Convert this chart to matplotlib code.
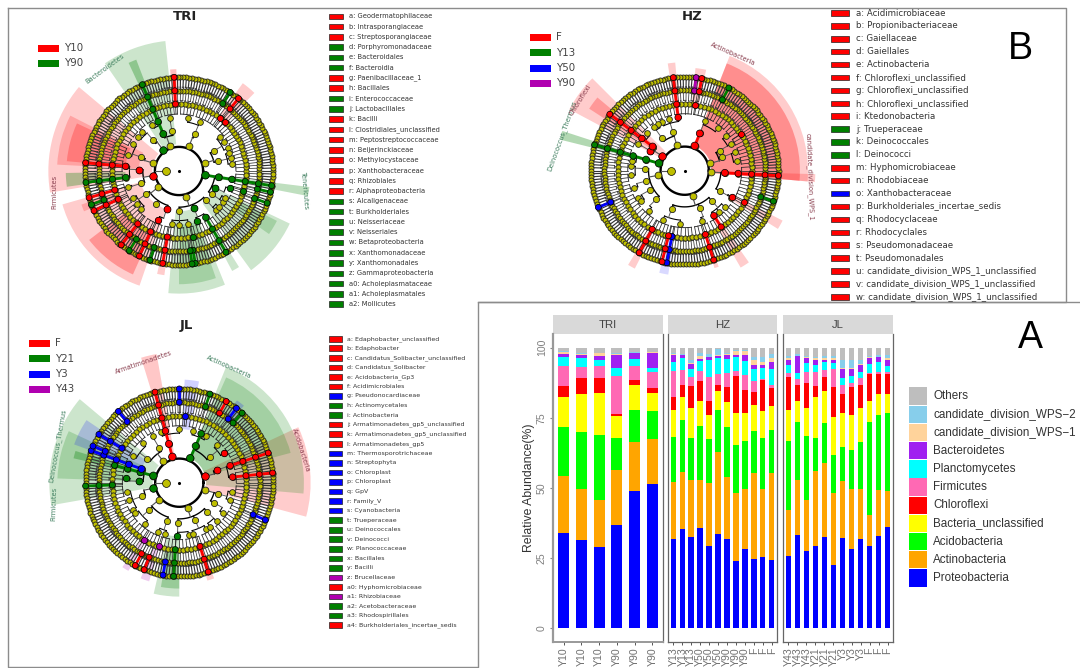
import numpy as np
import matplotlib
matplotlib.use("Agg")
import matplotlib.pyplot as plt
from matplotlib.patches import Rectangle

W, H = 1080, 668
RED, GREEN, BLUE, PURPLE = "#ff0000", "#008000", "#0000ff", "#b000b0"
OLIVE = "#bfbf00"
COL = {"r": RED, "g": GREEN, "b": BLUE, "m": PURPLE}

# ---- stacked bars: cumulative tops, one list per phylum
phyla = ["Proteobacteria", "Actinobacteria", "Acidobacteria", "Bacteria_unclassified",
         "Chloroflexi", "Firmicutes", "Planctomycetes", "Bacteroidetes",
         "candidate_division_WPS\u22121", "candidate_division_WPS\u22122", "Others"]
phyla_colors = ["#0000ff", "#ffa500", "#00ff00", "#ffff00", "#ff0000", "#ff69b4",
                "#00ffff", "#a020f0", "#ffd39b", "#87ceeb", "#bebebe"]

tri_samples = ["Y10", "Y10", "Y10", "Y90", "Y90", "Y90"]
tri_tops = [
    [34.1, 31.5, 29.0, 36.7, 48.9, 51.4],
    [54.2, 49.5, 45.8, 56.6, 66.3, 67.5],
    [71.8, 70.0, 69.0, 68.0, 78.0, 77.5],
    [82.5, 83.6, 84.0, 75.7, 86.7, 83.8],
    [86.3, 89.4, 89.3, 76.5, 88.6, 85.6],
    [93.5, 93.1, 93.5, 90.0, 93.5, 91.2],
    [96.8, 96.3, 95.8, 92.8, 96.1, 92.9],
    [97.9, 97.6, 96.9, 97.6, 98.2, 98.3],
    [98.4, 97.9, 98.0, 97.9, 98.3, 98.4],
    [99.0, 98.1, 98.3, 98.0, 98.4, 98.6],
    [100, 100, 100, 100, 100, 100],
]
hz_samples = ["Y13", "Y13", "Y13", "Y50", "Y50", "Y50", "Y90", "Y90", "Y90", "F", "F", "F"]
hz_tops = [
    [31.7, 35.3, 32.6, 35.7, 29.5, 33.5, 32.0, 24.0, 28.3, 24.6, 25.4, 24.4],
    [52.2, 55.8, 53.0, 53.0, 51.7, 62.9, 53.9, 48.4, 49.5, 55.4, 49.5, 55.2],
    [68.3, 74.1, 68.0, 72.2, 67.4, 78.0, 71.6, 65.2, 66.7, 70.5, 68.0, 70.8],
    [78.0, 82.5, 78.5, 81.1, 76.2, 84.7, 80.7, 76.6, 76.6, 79.5, 77.5, 79.1],
    [82.4, 86.6, 86.3, 88.1, 81.1, 86.9, 85.9, 90.0, 85.0, 84.4, 88.5, 85.6],
    [91.7, 92.2, 89.5, 91.8, 89.5, 90.6, 91.1, 91.8, 90.4, 88.0, 88.8, 86.6],
    [95.0, 96.2, 92.5, 95.2, 95.8, 96.4, 96.1, 96.6, 95.4, 92.4, 92.7, 92.4],
    [97.4, 97.3, 94.4, 95.9, 96.6, 96.9, 97.3, 97.4, 97.3, 93.7, 93.9, 95.0],
    [97.9, 97.5, 94.6, 97.2, 96.8, 97.3, 97.7, 98.8, 98.8, 95.5, 95.1, 96.2],
    [98.1, 97.7, 95.8, 98.1, 97.9, 99.4, 98.3, 99.3, 99.2, 96.7, 96.7, 97.9],
    [100] * 12,
]
jl_samples = ["Y43", "Y43", "Y43", "Y21", "Y21", "Y21", "Y3", "Y3", "Y3", "F", "F", "F"]
jl_tops = [
    [25.7, 33.4, 27.7, 29.3, 32.6, 22.7, 32.3, 28.3, 31.7, 29.3, 33.0, 36.1],
    [42.1, 53.0, 45.8, 56.0, 58.9, 48.2, 52.6, 49.7, 49.7, 40.4, 49.3, 48.9],
    [66.7, 73.5, 68.6, 67.9, 73.2, 61.6, 64.6, 63.4, 66.5, 73.5, 75.9, 76.7],
    [78.0, 81.0, 78.7, 82.5, 84.5, 75.3, 76.7, 75.9, 78.7, 81.2, 83.6, 83.6],
    [89.5, 86.9, 87.5, 86.4, 89.7, 86.2, 83.5, 85.9, 86.9, 90.5, 90.7, 90.5],
    [91.0, 88.8, 91.4, 91.2, 92.2, 92.5, 86.8, 87.5, 89.4, 91.1, 91.4, 91.4],
    [93.7, 91.0, 94.5, 93.8, 94.8, 94.5, 89.4, 90.0, 91.4, 94.4, 95.0, 93.5],
    [95.8, 96.9, 96.2, 95.7, 95.8, 95.5, 92.3, 92.3, 93.8, 96.2, 96.6, 95.6],
    [96.3, 97.1, 96.7, 96.2, 96.3, 96.3, 92.8, 92.8, 94.2, 96.6, 96.8, 96.3],
    [96.9, 97.7, 97.2, 96.6, 96.9, 96.9, 95.7, 95.7, 95.7, 96.9, 97.5, 97.3],
    [100] * 12,
]

# ---- biomarker lists next to each cladogram
tri_names = ["a: Geodermatophilaceae", "b: Intrasporangiaceae", "c: Streptosporangiaceae",
             "d: Porphyromonadaceae", "e: Bacteroidales", "f: Bacteroidia", "g: Paenibacillaceae_1",
             "h: Bacillales", "i: Enterococcaceae", "j: Lactobacillales", "k: Bacilli",
             "l: Clostridiales_unclassified", "m: Peptostreptococcaceae", "n: Beijerinckiaceae",
             "o: Methylocystaceae", "p: Xanthobacteraceae", "q: Rhizobiales", "r: Alphaproteobacteria",
             "s: Alcaligenaceae", "t: Burkholderiales", "u: Neisseriaceae", "v: Neisseriales",
             "w: Betaproteobacteria", "x: Xanthomonadaceae", "y: Xanthomonadales",
             "z: Gammaproteobacteria", "a0: Acholeplasmataceae", "a1: Acholeplasmatales", "a2: Mollicutes"]
tri_name_cols = "rrrgggrrggrrrrrrrrggggggggggg"
hz_names = ["a: Acidimicrobiaceae", "b: Propionibacteriaceae", "c: Gaiellaceae", "d: Gaiellales",
            "e: Actinobacteria", "f: Chloroflexi_unclassified", "g: Chloroflexi_unclassified",
            "h: Chloroflexi_unclassified", "i: Ktedonobacteria", "j: Trueperaceae", "k: Deinococcales",
            "l: Deinococci", "m: Hyphomicrobiaceae", "n: Rhodobiaceae", "o: Xanthobacteraceae",
            "p: Burkholderiales_incertae_sedis", "q: Rhodocyclaceae", "r: Rhodocyclales",
            "s: Pseudomonadaceae", "t: Pseudomonadales", "u: candidate_division_WPS_1_unclassified",
            "v: candidate_division_WPS_1_unclassified", "w: candidate_division_WPS_1_unclassified"]
hz_name_cols = "rrrrrrrrrgggrrbrrrrrrrr"
jl_names = ["a: Edaphobacter_unclassified", "b: Edaphobacter", "c: Candidatus_Solibacter_unclassified",
            "d: Candidatus_Solibacter", "e: Acidobacteria_Gp3", "f: Acidimicrobiales",
            "g: Pseudonocardiaceae", "h: Actinomycetales", "i: Actinobacteria",
            "j: Armatimonadetes_gp5_unclassified", "k: Armatimonadetes_gp5_unclassified",
            "l: Armatimonadetes_gp5", "m: Thermosporotrichaceae", "n: Streptophyta", "o: Chloroplast",
            "p: Chloroplast", "q: GpV", "r: Family_V", "s: Cyanobacteria", "t: Trueperaceae",
            "u: Deinococcales", "v: Deinococci", "w: Planococcaceae", "x: Bacillales", "y: Bacilli",
            "z: Brucellaceae", "a0: Hyphomicrobiaceae", "a1: Rhizobiaceae", "a2: Acetobacteraceae",
            "a3: Rhodospirillales", "a4: Burkholderiales_incertae_sedis"]
jl_name_cols = "rrrrrrbggrrrbbbbbbbggggggmrmggr"

# ---- cladograms. angle in degrees, ring 2..7 = taxonomic level outward
# highlighted chains: colour, angle, first ring, last ring
tri_chains = [("r", 93, 5, 7), ("r", 50.6, 6, 7), ("g", 57, 6, 7), ("r", 52, 5, 5), ("r", 47, 5, 5),
              ("g", 113, 3, 7), ("g", 127, 2, 2), ("r", 175, 4, 7), ("r", 178, 3, 3), ("r", 190, 2, 2),
              ("g", 187, 4, 7), ("r", 196.5, 5, 7), ("r", 205, 5, 7), ("g", 201, 6, 7), ("r", 252, 3, 3),
              ("r", 247, 4, 4), ("r", 245, 5, 7), ("r", 232, 5, 7), ("g", 238, 6, 7), ("r", 260, 5, 7),
              ("g", 252, 6, 7), ("g", 292, 3, 3), ("g", 290, 4, 4), ("g", 282, 5, 5), ("g", 280, 6, 7),
              ("g", 278, 6, 7), ("g", 300, 4, 7), ("g", 335, 3, 3), ("g", 341, 4, 4), ("g", 343, 5, 5),
              ("g", 347, 6, 7), ("g", 340, 6, 7), ("g", 351, 2, 7)]
hz_chains = [("g", 164, 2, 7), ("r", 147, 2, 2), ("r", 150, 3, 3), ("r", 143, 3, 7), ("r", 97, 4, 7),
             ("r", 68, 2, 3), ("r", 81, 5, 5), ("m", 83, 6, 7), ("r", 79.5, 6, 7), ("g", 62, 6, 7),
             ("r", 33, 5, 5), ("r", 357, 3, 7), ("g", 341, 6, 7), ("r", 331, 4, 4), ("r", 332, 5, 5),
             ("r", 303, 4, 5), ("r", 288, 5, 7), ("r", 241, 5, 7), ("b", 259, 5, 7), ("r", 256, 5, 7),
             ("b", 203, 6, 7)]
jl_chains = [("r", 105, 2, 7), ("g", 66, 2, 4), ("g", 71, 6, 7), ("b", 85, 5, 5), ("b", 90, 6, 7),
             ("r", 14, 2, 2), ("r", 18.6, 3, 3), ("r", 33.5, 4, 4), ("r", 18.5, 4, 7), ("r", 6, 4, 7),
             ("b", 52.5, 6, 7), ("g", 48, 6, 7), ("r", 60, 6, 7), ("g", 165, 2, 5), ("b", 160, 3, 7),
             ("b", 149, 5, 7), ("b", 157, 6, 7), ("b", 130.5, 6, 7), ("g", 192, 2, 2), ("g", 178, 3, 3),
             ("g", 175, 4, 4), ("g", 182, 5, 7), ("b", 336.6, 6, 7), ("r", 288, 5, 7), ("g", 268, 4, 4),
             ("g", 266.5, 5, 7), ("b", 260, 6, 7), ("r", 242, 6, 7), ("r", 248, 6, 7), ("m", 238, 5, 5),
             ("m", 252, 5, 5)]

# olive (not significant) inner nodes by ring
tri_olive = {2: [17, 68, 110, 163, 218, 286],
             3: [14, 30, 67, 100, 130, 160, 198, 215, 235, 270, 313, 325],
             4: [8, 14, 25, 33, 40, 67, 80, 100, 120, 133, 140, 150, 163, 197, 210, 218, 225, 262,
                 270, 280, 313, 318, 325, 330, 20]}
hz_olive = {2: [16, 107, 190, 287, 357],
            3: [30, 20, 107, 125, 177, 195, 209, 225, 251, 292, 312, 330],
            4: [10, 20, 30, 40, 68, 107, 115, 120, 135, 150, 175, 185, 199, 210, 215, 228, 246, 265,
                289, 310, 318, 330, 52, 170, 125]}
jl_olive = {2: [127, 220, 288, 344],
            3: [143, 120, 200, 222, 252, 268, 293, 314, 344, 330, 40],
            4: [133, 120, 150, 190, 199, 210, 215, 230, 247, 280, 300, 305, 314, 325, 341, 350,
                60, 45, 90, 75, 110, 255, 285]}
# outer rings: how many nodes fall in 0-120, 120-240, 240-360 degrees
tri_ring_counts = {5: [38, 36, 38], 6: [58, 56, 58], 7: [66, 64, 66]}
hz_ring_counts = {5: [36, 34, 36], 6: [58, 56, 58], 7: [66, 64, 66]}
jl_ring_counts = {5: [36, 34, 36], 6: [58, 56, 58], 7: [66, 64, 66]}

# shaded clades: colour, from angle, to angle, base ring, outer radius, alpha
tri_shades = [("r", 140, 189.5, 2, 9.75, .2), ("r", 153, 177, 3, 9.1, .2), ("r", 155, 175, 4, 8.4, .25),
              ("r", 196, 251, 3, 9.05, .2), ("r", 217.5, 246, 5, 8.45, .28),
              ("g", 96, 124.5, 2, 9.75, .2), ("g", 265, 292, 3, 9.15, .2), ("g", 270, 289, 4, 8.45, .2),
              ("g", 306, 334.6, 3, 9.15, .2), ("g", 325, 333, 5, 8.2, .2), ("g", 349, 353, 2, 9.8, .25),
              ("g", 111, 115, 3, 8.9, .3), ("r", 258, 262, 5, 7.85, .2), ("g", 298, 302, 4, 8.45, .2),
              ("r", 91.5, 95, 5, 7.6, .25), ("r", 46, 54, 5, 8.1, .2), ("g", 181, 188, 4, 8.45, .3),
              ("r", 199, 203, 5, 7.7, .2)]
hz_shades = [("r", 355, 428.6, 2, 9.2, .2), ("r", 355, 428.6, 2, 8.6, .3), ("r", 355, 358.5, 3, 9.75, .2),
             ("r", 135, 152, 2, 9.75, .2), ("r", 140, 147, 3, 8.5, .25), ("g", 162, 166, 2, 9.6, .3),
             ("r", 328, 333, 4, 8.2, .2), ("r", 300, 305, 4, 8.35, .2), ("r", 239, 243, 5, 8.2, .2),
             ("b", 256, 261, 5, 7.85, .15), ("r", 287, 289.5, 5, 7.6, .2), ("r", 95, 99, 4, 8.1, .2),
             ("r", 78, 84, 5, 7.7, .2)]
jl_shades = [("g", 140, 190, 2, 9.7, .2), ("g", 155, 178, 3, 9.1, .2), ("b", 146, 160, 3, 8.35, .18),
             ("g", 163, 167, 2, 8.1, .3), ("r", 100, 107, 2, 9.75, .22),
             ("r", 345, 385, 2, 9.8, .2), ("g", 355, 428, 2, 9.3, .2), ("g", 375, 426, 2, 8.6, .2),
             ("g", 257, 270, 4, 8.5, .2), ("g", 260, 270, 5, 7.9, .25), ("b", 79, 87, 4, 7.7, .18),
             ("m", 236, 240, 5, 7.6, .2), ("m", 248, 253, 5, 7.7, .2), ("r", 286, 290, 5, 7.6, .2),
             ("b", 50, 55, 6, 7.5, .2)]

# clade names: text, angle, radius, rotation, colour
tri_labels = [("Bacteroidetes", 126, 9.4, 36, "#3f7f5f"), ("Firmicutes", 189.5, 9.46, 90, "#8a3f4f"),
              ("Tenericutes", 351, 9.5, -85, "#3f7f5f")]
hz_labels = [("Actinobacteria", 67.4, 9.43, -24, "#8a3f4f"), ("candidate_division_WPS_1", 357, 9.3, -88, "#8a3f4f"),
             ("Deinococcus_Thermus", 164, 9.5, 70, "#3f7f5f"), ("Chloroflexi", 146, 9.4, 58, "#8a3f4f")]
jl_labels = [("Armatimonadetes", 106.7, 9.35, 19, "#8a3f4f"), ("Actinobacteria", 67, 9.4, -24, "#3f7f5f"),
             ("Acidobacteria", 15, 9.43, -72, "#8a3f4f"), ("Deinococcus_Thermus", 163, 9.5, 80, "#3f7f5f"),
             ("Firmicutes", 189.5, 9.45, 88, "#3f7f5f")]

fig = plt.figure(figsize=(W / 100, H / 100), dpi=100)
ov = fig.add_axes([0, 0, 1, 1])
ov.set_xlim(0, W)
ov.set_ylim(H, 0)
ov.axis("off")

# panel frames
frame = "#8c8c8c"
ov.plot([8, 1066, 1066, 478], [8, 8, 302, 302], color=frame, lw=1)
ov.plot([8, 8, 478, 478, 1080], [8, 667, 667, 302, 302], color=frame, lw=1)


def cladogram(cx, cy, olive, counts, chains, shades, labels):
    R = 134
    ax = fig.add_axes([(cx - R) / W, (H - cy - R) / H, 2 * R / W, 2 * R / H], polar=True)
    ax.set_ylim(0, 10)
    ax.axis("off")
    ax.patch.set_alpha(0)
    for c, a0, a1, base, top, alpha in shades:
        ax.bar(np.radians((a0 + a1) / 2), top - base, width=np.radians(a1 - a0), bottom=base,
               color=COL[c], alpha=alpha, lw=0, zorder=1)

    # collect nodes per ring, evenly spread in the outer rings
    rings = {u: list(olive[u]) for u in olive}
    for u, cnt in counts.items():
        rings[u] = []
        for i, n in enumerate(cnt):
            rings[u] += list(np.linspace(120 * i, 120 * (i + 1), n, endpoint=False))
    for c, a, u0, u1 in chains:
        for u in range(u0, u1 + 1):
            rings[u].append(a)

    # links: each node hangs off the nearest node one ring in
    lws = {2: 1.7, 3: 1.4, 4: 1.1, 5: .9, 6: .9, 7: 1.4}
    cols = {2: "k", 3: "k", 4: "k", 5: "#222222", 6: "#333333", 7: "#333333"}
    ax.plot(np.radians(np.linspace(0, 360, 200)), np.full(200, 1.8), color="k", lw=lws[2], zorder=2)
    ax.plot(np.radians([180, 180]), [1, 1.8], color="#555555", lw=.8, zorder=2)
    for u in range(2, 8):
        angles = np.array(rings[u])
        if u == 2:
            for a in angles:
                ax.plot(np.radians([a, a]), [1.8, u], color="#555555", lw=.8, zorder=2)
            continue
        parents = np.array(rings[u - 1])
        diff = (angles[:, None] - parents[None, :] + 180) % 360 - 180
        near = np.abs(diff).argmin(axis=1)
        for j, p in enumerate(parents):
            d = diff[near == j, j]
            if len(d) == 0:
                continue
            # arcs sit next to the children near the middle, next to the parent further out
            ra = u - .3 if u <= 4 else u - .75
            ax.plot(np.radians(np.linspace(p + min(d.min(), 0), p + max(d.max(), 0), 20)),
                    np.full(20, ra), color=cols[u], lw=lws[u] * .7, zorder=2)
            ax.plot(np.radians([p, p]), [u - 1, ra], color="#555555", lw=lws[u] * .6, zorder=2)
            for x in d:
                ax.plot(np.radians([p + x, p + x]), [ra, u], color=cols[u], lw=lws[u] * .6, zorder=2)

    sizes = {1: 32, 2: 24, 3: 20, 4: 17, 5: 14, 6: 13, 7: 13}
    ax.scatter([0], [0], s=1.5, color="k", zorder=3)
    ax.scatter([np.pi], [1], s=sizes[1], color=OLIVE, edgecolor="k", lw=.5, zorder=3)
    for u in range(2, 8):
        ax.scatter(np.radians(rings[u]), np.full(len(rings[u]), u), s=sizes[u], color=OLIVE,
                   edgecolor="#222222", lw=.6, zorder=3)
    for c, a, u0, u1 in chains:
        if u1 > u0:
            ax.plot(np.radians([a, a]), [u0, u1], color=COL[c], lw=2, zorder=4)
    for c, a, u0, u1 in chains:
        us = np.arange(u0, u1 + 1)
        ax.scatter(np.radians(np.full(len(us), a)), us, s=[sizes[u] + 5 for u in us], color=COL[c],
                   edgecolor="k", lw=.5, zorder=5)
    for txt, a, r, rot, c in labels:
        ax.text(np.radians(a), r, txt, rotation=rot, fontsize=4.8, color=c, ha="center", va="center",
                rotation_mode="anchor", zorder=6)


cladogram(179, 171, tri_olive, tri_ring_counts, tri_chains, tri_shades, tri_labels)
cladogram(684.7, 170.7, hz_olive, hz_ring_counts, hz_chains, hz_shades, hz_labels)
cladogram(179.3, 482.7, jl_olive, jl_ring_counts, jl_chains, jl_shades, jl_labels)

# titles and panel letters
for txt, x, y in [("TRI", 185, 16), ("HZ", 692, 16), ("JL", 186, 325)]:
    ov.text(x, y, txt, fontsize=9.5, fontweight="bold", ha="center", va="center", color="#222222")
ov.text(1030, 338, "A", fontsize=27, family="Liberation Sans", ha="center", va="center")
ov.text(1020, 49, "B", fontsize=27, family="Liberation Sans", ha="center", va="center")

# group legends in each cladogram
for names, cols, x, y0, dy in [(["Y10", "Y90"], [RED, GREEN], 38, 48, 15.3),
                               (["F", "Y13", "Y50", "Y90"], [RED, GREEN, BLUE, PURPLE], 530, 37, 15.5),
                               (["F", "Y21", "Y3", "Y43"], [RED, GREEN, BLUE, PURPLE], 29, 343, 15.5)]:
    for i, (n, c) in enumerate(zip(names, cols)):
        ov.add_patch(Rectangle((x, y0 + i * dy - 3.5), 21, 7, color=c, lw=0))
        ov.text(x + 26, y0 + i * dy, n, fontsize=7.4, color="#444444", va="center")

# biomarker lists
for names, cols, sx, sw, tx, y0, dy, fs in [(tri_names, tri_name_cols, 329, 14, 349, 16.3, 10.28, 4.9),
                                            (hz_names, hz_name_cols, 831, 18, 856, 13, 12.9, 6.2),
                                            (jl_names, jl_name_cols, 329, 13, 347, 338.7, 9.55, 4.5)]:
    for i, (n, c) in enumerate(zip(names, cols)):
        y = y0 + i * dy
        ov.add_patch(Rectangle((sx, y - 2.8), sw, 5.6, facecolor=COL[c], edgecolor="#222222", lw=.5))
        ov.text(tx, y, n, fontsize=fs, color="#333333", va="center")

# stacked bars
panels = [("TRI", 553, 663, tri_samples, tri_tops),
          ("HZ", 668, 777, hz_samples, hz_tops),
          ("JL", 783, 893, jl_samples, jl_tops)]
ytop, ybot = 333.5, 642
for k, (name, x0, x1, samples, tops) in enumerate(panels):
    ax = fig.add_axes([x0 / W, (H - ybot) / H, (x1 - x0) / W, (ybot - ytop) / H])
    x = np.arange(len(samples))
    bottom = np.zeros(len(samples))
    for series, col in zip(tops, phyla_colors):
        series = np.array(series, dtype=float)
        ax.bar(x, series - bottom, bottom=bottom, width=.62, color=col, lw=0)
        bottom = series
    ax.set_xlim(-.6, len(samples) - .4)
    ax.set_ylim(-4.9, 105.1)
    ax.set_xticks(x)
    ax.set_xticklabels(samples, rotation=90, family="Liberation Sans", fontsize=7.6, color="#707070")
    ax.tick_params(axis="x", length=2.5, width=.7, color="#555555", pad=1.5)
    ax.spines["top"].set_visible(False)
    for s in ["left", "right", "bottom"]:
        ax.spines[s].set_color("#666666")
        ax.spines[s].set_linewidth(.9)
    if k == 0:
        ax.spines["left"].set_color("#999999")
        ax.spines["left"].set_linewidth(1.6)
        ax.spines["bottom"].set_color("#999999")
        ax.spines["bottom"].set_linewidth(1.4)
        ax.set_yticks([0, 25, 50, 75, 100])
        ax.set_yticklabels(["0", "25", "50", "75", "100"], rotation=90, va="center",
                           family="Liberation Sans", fontsize=7.6, color="#808080")
        ax.tick_params(axis="y", length=2.5, width=.8, color="#888888", pad=2)
        ax.set_ylabel("Relative Abundance(%)", family="Liberation Sans", fontsize=8.8,
                      color="#333333", labelpad=1)
    else:
        ax.set_yticks([])
    ov.add_patch(Rectangle((x0, 315), x1 - x0, ytop - 315, color="#d9d9d9", lw=0))
    ov.text((x0 + x1) / 2, 324.5, name, family="Liberation Sans", fontsize=8.2, color="#444444",
            ha="center", va="center")

# phylum legend, top to bottom
for i, (n, c) in enumerate(zip(phyla[::-1], phyla_colors[::-1])):
    y = 396 + i * 18.2
    ov.add_patch(Rectangle((909, y - 8.7), 17.6, 17.4, color=c, lw=0))
    ov.text(933, y, n, family="Liberation Sans", fontsize=8.4, color="#333333", va="center")

fig.savefig("out.png", dpi=100)
